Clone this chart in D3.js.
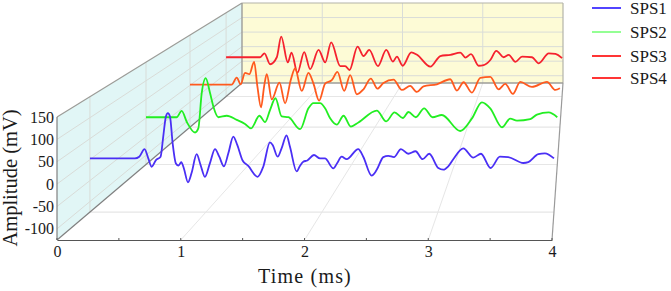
<!DOCTYPE html>
<html><head><meta charset="utf-8">
<script src="https://cdn.jsdelivr.net/npm/d3@7"></script>
<style>html,body{margin:0;padding:0;background:#fff}svg{display:block}text{font-family:"Liberation Serif",serif;fill:#1a1a1a}</style>
</head><body><svg id="c" width="671" height="291"></svg>
<script>
const seriesNames = ["SPS1","SPS2","SPS3","SPS4"];
const timeTicks = [0,1,2,3,4];
const timeMinor = [0.5,1.5,2.5,3.5];
const ampTicks = [150,100,50,0,-50,-100];
const depths = [0.178,0.481,0.719,0.914];
const sps1T = [0,.388,.425,.471,.503,.532,.569,.609,.632,.655,.672,.690,.713,.741,.764,.787,.810,.845,.876,.920,.954,.991,1.034,1.078,1.115,1.155,1.193,1.236,1.270,1.316,1.365,1.445,1.494,1.552,1.575,1.618,1.652,1.695,1.724,1.782,1.810,1.839,1.874,1.931,1.983,2.026,2.098,2.132,2.170,2.213,2.313,2.356,2.428,2.471,2.529,2.572,2.621,2.681,2.744,2.807,2.868,2.925,3.003,3.046,3.089,3.132,3.218,3.305,3.371,3.454,3.534,3.606,3.736,3.779,3.865,3.922,4];
const sps1V = [3,3,7,25,3,-17,-1,7,55,103,111,103,39,-9,-14,-6,-21,-54,-32,13,-13,-41,-9,25,7,-16,15,55,35,-2,-15,-41,-17,41,35,7,27,58,31,-28,-15,-5,-2,11,3,3,-21,-8,7,1,25,7,-38,-25,6,9,6,25,14,20,1,14,-20,-24,-16,1,27,5,14,-20,7,6,-8,-6,13,15,3];
const sps2T = [0,.298,.347,.396,.477,.509,.542,.581,.623,.655,.704,.785,.882,.963,1.022,1.103,1.158,1.207,1.259,1.320,1.385,1.499,1.580,1.628,1.693,1.742,1.791,1.856,1.921,1.992,2.066,2.245,2.336,2.417,2.498,2.553,2.624,2.705,2.787,2.877,3.056,3.170,3.267,3.348,3.462,3.542,3.608,3.737,3.802,3.916,4];
const sps2V = [2,2,19,-10,-39,-28,67,107,67,31,2,6,-5,-16,-28,6,-11,22,53,4,2,-30,26,40,40,26,-1,-18,6,-23,-12,20,-9,15,0,16,2,26,2,8,-35,-1,42,26,-25,-2,-7,-3,9,15,2];
const sps3T = [0,.451,.505,.548,.595,.642,.693,.729,.768,.801,.830,.884,.967,1.028,1.089,1.136,1.208,1.281,1.335,1.396,1.461,1.533,1.594,1.667,1.732,1.804,1.876,1.955,2.027,2.092,2.201,2.291,2.381,2.453,2.525,2.670,2.814,2.886,2.958,3.048,3.139,3.247,3.337,3.409,3.492,3.571,3.698,3.860,3.951,4];
const sps3V = [2,2,23,3,37,33,70,-4,-66,-4,33,-42,8,-54,15,50,-17,37,5,-46,5,15,40,-17,30,-27,-12,20,-10,7,17,-14,-2,-20,-3,3,18,-16,9,-22,22,25,-12,4,-26,10,-5,10,-14,-9];
const sps4T = [0,.405,.457,.524,.604,.656,.735,.779,.850,.930,1.001,1.101,1.180,1.251,1.359,1.418,1.470,1.565,1.637,1.704,1.808,1.907,1.986,2.034,2.102,2.205,2.273,2.432,2.551,2.670,2.789,2.849,2.916,3.007,3.067,3.146,3.218,3.305,3.365,3.444,3.524,3.643,3.722,3.842,3.921,4];
const sps4V = [4,4,17,-19,4,72,-13,19,-47,21,-35,28,-13,53,-25,-25,-38,39,8,28,-25,28,-10,6,-24,20,12,-27,8,12,19,3,14,-24,-22,-5,25,4,12,-11,6,4,-16,17,15,1];
const seriesT = [sps1T,sps2T,sps3T,sps4T];
const seriesV = [sps1V,sps2V,sps3V,sps4V];
const lineColors = ["#4a2ff5","#22ee22","#ff5a1e","#f5222e"];
const legendColors = ["#3f2fff","#88ff88","#ff1f1f","#ff1f1f"];
const legendY = [8,32,56,78];

const xFront = d3.scaleLinear([0,4],[57,552]);
const xBack  = d3.scaleLinear([0,4],[242,563]);
const yFront = d3.scaleLinear([-125,150],[240,117]);
const yBack  = d3.scaleLinear([-125,150],[83,3]);
const mix = d3.interpolateNumber;
const px = (t,d)=>mix(xFront(t),xBack(t))(d);
const py = (v,d)=>mix(yFront(v),yBack(v))(d);

const svg = d3.select("#c");
const seg = (g,a,b,color,w)=>g.append("line").attr("x1",a[0]).attr("y1",a[1]).attr("x2",b[0]).attr("y2",b[1]).attr("stroke",color).attr("stroke-width",w);
const P=(t,v,d)=>[px(t,d),py(v,d)];

// walls
const walls = svg.append("g");
walls.append("path").attr("d",d3.line()([P(0,150,0),P(0,150,1),P(0,-125,1),P(0,-125,0)])+"Z").attr("fill","#e1f6f6");
walls.append("path").attr("d",d3.line()([P(0,150,1),P(4,150,1),P(4,-125,1),P(0,-125,1)])+"Z").attr("fill","#fdfbd6");
const grid="#d9dcd8", floorGrid="#e6e6e6";
ampTicks.slice(1).forEach(v=>{
  seg(walls,P(0,v,0),P(0,v,1),grid,1);
  seg(walls,P(0,v,1),P(4,v,1),grid,1);
});
depths.forEach(d=>{
  seg(walls,P(0,-125,d),P(0,150,d),grid,1);
  seg(walls,P(0,-125,d),P(4,-125,d),floorGrid,1.2);
});
timeTicks.slice(1,4).forEach(t=>{
  seg(walls,P(t,-125,1),P(t,150,1),grid,1);
  seg(walls,P(t,-125,0),P(t,-125,1),floorGrid,1);
});
// frame
const frame="#9c9c98";
seg(walls,P(0,150,0),P(0,150,1),frame,1.2);
seg(walls,P(0,150,1),P(4,150,1),"#b4b4a8",1.2);
seg(walls,P(4,150,1),P(4,-125,1),"#b4b4a8",1.2);
seg(walls,P(0,150,1),P(0,-125,1),frame,1.4);
seg(walls,P(0,-125,1),P(4,-125,1),frame,1.4);
seg(walls,P(0,-125,0),P(0,-125,1),"#808080",1.2);
seg(walls,P(4,-125,0),P(4,-125,1),"#9a9a9a",1.2);
seg(walls,P(0,-125,0),P(0,150,0),"#808080",1.2);

// lines, back to front
const marks = svg.append("g");
[3,2,1,0].forEach(i=>{
  const d=depths[i];
  const line=d3.line().x(j=>px(seriesT[i][j],d)).y(j=>py(seriesV[i][j],d)).curve(d3.curveMonotoneX);
  marks.append("path").attr("d",line(d3.range(seriesT[i].length))).attr("fill","none")
    .attr("stroke",lineColors[i]).attr("stroke-width",1.8).attr("stroke-linejoin","round");
});

// axes
const xAxis = svg.append("g").attr("transform","translate(0,240)")
  .call(d3.axisBottom(xFront).tickValues(timeTicks).tickFormat(d3.format("d")).tickSize(0).tickPadding(6));
xAxis.select(".domain").attr("stroke","#555").attr("stroke-width",1.2);
xAxis.selectAll("text").attr("font-size",16);
xAxis.selectAll(".minor").data(timeMinor.concat(timeTicks)).enter().append("line").attr("class","minor")
  .attr("x1",d=>xFront(d)).attr("x2",d=>xFront(d)).attr("y1",0).attr("y2",-2).attr("stroke","#555");
const yAxis = svg.append("g").attr("transform","translate(57,0)")
  .call(d3.axisLeft(yFront).tickValues(ampTicks).tickSize(0).tickPadding(3).tickFormat(d=>String(d)));
yAxis.select(".domain").remove();
yAxis.selectAll("text").attr("font-size",16);

svg.append("text").attr("x",305).attr("y",283).attr("text-anchor","middle").attr("font-size",20).attr("letter-spacing",1.2).text("Time (ms)");
svg.append("text").attr("transform","translate(17,178) rotate(-90)").attr("text-anchor","middle").attr("font-size",20.5).text("Amplitude (mV)");

// legend
const legend = svg.append("g");
seriesNames.forEach((n,i)=>{
  legend.append("line").attr("x1",592).attr("x2",621).attr("y1",legendY[i]).attr("y2",legendY[i]).attr("stroke",legendColors[i]).attr("stroke-width",1.8);
  legend.append("text").attr("x",630).attr("y",legendY[i]+5.5).attr("font-size",17).text(n);
});
</script></body></html>
